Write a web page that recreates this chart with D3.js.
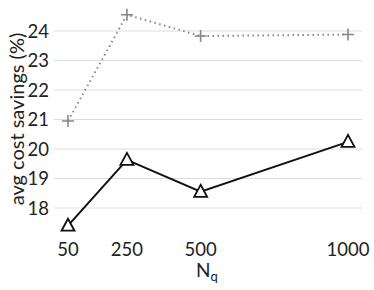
<!DOCTYPE html>
<html>
<head>
<meta charset="utf-8">
<script src="https://d3js.org/d3.v7.min.js"></script>
<style>
  body { margin: 0; background: #fff; }
  text { font-family: Lato, "Open Sans", sans-serif; fill: #222; }
</style>
</head>
<body>
<div id="chart"></div>
<script>
// data
var nq = [50, 250, 500, 1000];
var upper = [20.95, 24.55, 23.83, 23.88];   // grey dotted, plus markers
var lower = [17.4, 19.63, 18.55, 20.24];     // black solid, triangles
var yTicks = [18, 19, 20, 21, 22, 23, 24];

var W = 374, H = 290;
var svg = d3.select("#chart").append("svg")
    .attr("width", W).attr("height", H);

var x = d3.scaleLinear().domain([50, 1000]).range([68, 348]);
var y = d3.scaleLinear().domain([18, 24]).range([208, 31]);

// grid
svg.append("g").selectAll("line")
    .data(yTicks).join("line")
    .attr("x1", 54).attr("x2", 362)
    .attr("y1", d => y(d)).attr("y2", d => y(d))
    .attr("stroke", "#ddd").attr("stroke-width", 1);

// y tick labels
svg.append("g").selectAll("text")
    .data(yTicks).join("text")
    .attr("x", 49).attr("y", d => y(d))
    .attr("dy", "0.36em")
    .attr("text-anchor", "end")
    .style("font-size", "18.5px")
    .text(d => d);

// x tick labels
svg.append("g").selectAll("text")
    .data(nq).join("text")
    .attr("x", d => x(d)).attr("y", 256)
    .attr("text-anchor", "middle")
    .style("font-size", "18.5px")
    .text(d => d);

// axis titles
svg.append("text")
    .attr("transform", "translate(24,119)rotate(-90)")
    .attr("text-anchor", "middle")
    .style("font-size", "20px")
    .text("avg cost savings (%)");

var xt = svg.append("text")
    .attr("x", 207).attr("y", 277)
    .attr("text-anchor", "middle")
    .style("font-size", "19px");
xt.append("tspan").text("N");
xt.append("tspan").attr("dy", 4).style("font-size", "13px").text("q");

var line = d3.line().x(d => x(d[0])).y(d => y(d[1]));

// grey dotted series
var up = nq.map((d, i) => [d, upper[i]]);
svg.append("path").datum(up)
    .attr("d", line)
    .attr("fill", "none")
    .attr("stroke", "#888")
    .attr("stroke-width", 2)
    .attr("stroke-dasharray", "1.5,3.5");
svg.append("g").selectAll("path")
    .data(up).join("path")
    .attr("d", d => {
        var cx = x(d[0]), cy = y(d[1]), r = 6;
        return `M${cx - r},${cy}H${cx + r}M${cx},${cy - r}V${cy + r}`;
    })
    .attr("stroke", "#888").attr("stroke-width", 1.6);

// black solid series
var lo = nq.map((d, i) => [d, lower[i]]);
svg.append("path").datum(lo)
    .attr("d", line)
    .attr("fill", "none")
    .attr("stroke", "#111")
    .attr("stroke-width", 2);
svg.append("g").selectAll("path")
    .data(lo).join("path")
    .attr("d", d => {
        var cx = x(d[0]), cy = y(d[1]);
        return `M${cx},${cy - 7}L${cx + 6.5},${cy + 5}L${cx - 6.5},${cy + 5}Z`;
    })
    .attr("fill", "#fff")
    .attr("stroke", "#111").attr("stroke-width", 1.8);
</script>
</body>
</html>
